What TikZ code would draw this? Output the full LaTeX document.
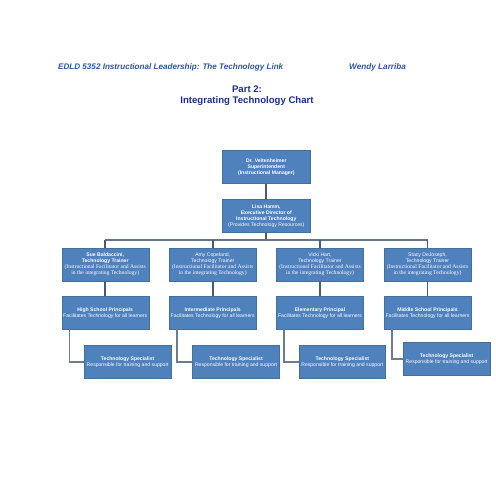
\documentclass[tikz,border=0pt]{standalone}
\usepackage{fontspec}
\setmainfont{Liberation Sans}
\newfontfamily\serifrm{Liberation Serif}
\usetikzlibrary{calc}
\definecolor{boxblue}{HTML}{4F81BD}
\definecolor{boxedge}{HTML}{41719C}
\definecolor{linegray}{HTML}{4A5A70}
\definecolor{headblue}{HTML}{2C56A6}
\definecolor{titleblue}{HTML}{1B2F8C}
\tikzset{
  orgbox/.style={rectangle, fill=boxblue, draw=boxedge, line width=0.4pt,
    minimum width=87pt, minimum height=33pt, inner sep=0.5pt, align=center,
    text=white, font=\fontsize{5.1}{6}\selectfont},
  conn/.style={draw=linegray, line width=1.7pt},
  bus/.style={draw=linegray!85, line width=1.4pt},
}
\newcommand{\srl}[1]{{\serifrm\fontsize{5.6}{5.4}\selectfont #1}}
\begin{document}
\begin{tikzpicture}[x=1pt,y=-1pt]
\useasboundingbox (0,0) rectangle (495,495);
\fill[white] (0,0) rectangle (495,495);
% header
\node[anchor=west, text=headblue, font=\fontsize{8.1}{9}\selectfont\bfseries\itshape, inner sep=0] (hdr) at (58,67) {EDLD 5352 Instructional Leadership: The Technology Link};
\node[anchor=west, text=headblue, font=\fontsize{8.2}{9}\selectfont\bfseries\itshape, inner sep=0] (auth) at (349,67) {Wendy Larriba};
\node[text=titleblue, font=\fontsize{9.6}{10.4}\selectfont\bfseries, align=center, inner sep=0] (ttl) at (247,95.5) {Part 2:\\Integrating Technology Chart};
% boxes
\node[orgbox, minimum width=87.5pt] (sup) at (266.3,167) {\textbf{Dr. Veltenheimer}\\\textbf{Superintendent}\\\textbf{(Instructional Manager)}};
\node[orgbox, minimum width=87.5pt] (dir) at (266.3,215.8) {\textbf{Lisa Hamm,}\\\textbf{Executive Director of}\\\textbf{Instructional Technology}\\(Provides Technology Resources)};
\node[orgbox] (t1) at (105.2,264.5) {\textbf{Sue Baldaccini,}\\\textbf{Technology Trainer}\\\srl{(Instructional Facilitator and Assists}\\\srl{in the integrating Technology)}};
\node[orgbox] (t2) at (212.7,264.5) {Amy Copeland,\\Technology Trainer\\\srl{(Instructional Facilitator and Assists}\\\srl{in the integrating Technology)}};
\node[orgbox] (t3) at (320,264.5) {Vicki Hart,\\Technology Trainer\\\srl{(Instructional Facilitator and Assists}\\\srl{in the integrating Technology)}};
\node[orgbox] (t4) at (427.5,264.5) {Stacy DeJoseph,\\Technology Trainer\\\srl{(Instructional Facilitator and Assists}\\\srl{in the integrating Technology)}};
\node[orgbox] (p1) at (105.2,312.7) {\textbf{High School Principals}\\Facilitates Technology for all learners};
\node[orgbox] (p2) at (212.7,312.7) {\textbf{Intermediate Principals}\\Facilitates Technology for all learners};
\node[orgbox] (p3) at (320,312.7) {\textbf{Elementary Principal}\\Facilitates Technology for all learners};
\node[orgbox] (p4) at (427.5,312.7) {\textbf{Middle School Principals}\\Facilitates Technology for all learners};
\node[orgbox, minimum width=86.7pt, minimum height=32.7pt] (s1) at (127.7,362) {\textbf{Technology Specialist}\\Responsible for training and support};
\node[orgbox, minimum width=86.7pt, minimum height=32.7pt] (s2) at (236,362) {\textbf{Technology Specialist}\\Responsible for training and support};
\node[orgbox, minimum width=86.7pt, minimum height=32.7pt] (s3) at (342.3,362) {\textbf{Technology Specialist}\\Responsible for training and support};
\node[orgbox, minimum width=86.7pt, minimum height=32.7pt] (s4) at (446.7,359) {\textbf{Technology Specialist}\\Responsible for training and support};
% connectors
\coordinate (busc) at (266.3,240);
\draw[conn, line width=2.2pt] (sup.south) -- (dir.north);
\draw[conn] (dir.south) -- (busc);
\draw[bus] (t1.north |- busc) -- (t4.north |- busc);
\foreach \t in {t1,t2,t3,t4} {\draw[conn] (\t.north |- busc) -- (\t.north);}
\foreach \t/\p in {t1/p1,t2/p2,t3/p3,t4/p4} {\draw[conn] (\t.south) -- (\p.north);}
\foreach \p/\s in {p1/s1,p2/s2,p3/s3,p4/s4} {\draw[conn, draw=linegray!80] ($(\p.south west)+(8,0)$) |- (\s.west);}
\end{tikzpicture}
\end{document}
